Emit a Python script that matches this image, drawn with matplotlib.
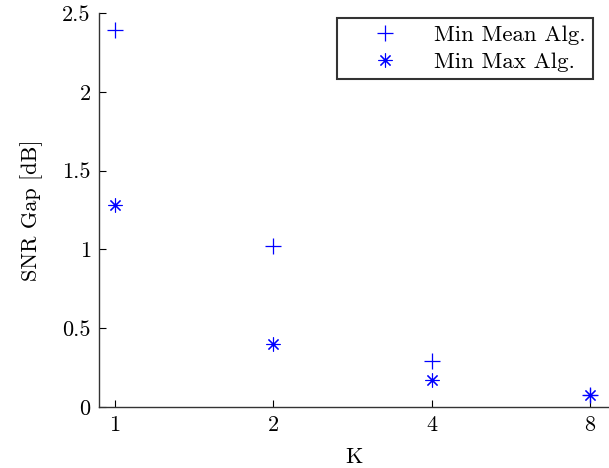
import numpy as np
import matplotlib
matplotlib.use('Agg')
import matplotlib.pyplot as plt

plt.rcParams['font.family'] = 'serif'
plt.rcParams['font.serif'] = ['cmr10']
plt.rcParams['mathtext.fontset'] = 'cm'
plt.rcParams['axes.formatter.use_mathtext'] = True

K = [1, 2, 4, 8]
min_mean = [2.39, 1.02, 0.29, 0.075]
min_max = [1.28, 0.40, 0.17, 0.075]
yticks = [0, 0.5, 1, 1.5, 2, 2.5]
ytick_labels = ['0', '0.5', '1', '1.5', '2', '2.5']

fs = 16

fig = plt.figure(figsize=(6.09, 4.68), dpi=100)
ax = fig.add_axes([99/609, 61/468, 510/609, 394/468])

ax.plot(K, min_mean, linestyle='none', marker='+', color='blue',
        markersize=11.5, markeredgewidth=0.9, label='Min Mean Alg.')
ax.plot(K, min_max, linestyle='none', marker=(8, 2, 0), color='blue',
        markersize=10, markeredgewidth=0.8, label='Min Max Alg.')

ax.set_xscale('log', base=2)
ax.set_xlim(0.932, 8.7)
ax.set_ylim(0, 2.5)
ax.set_xticks(K)
ax.set_xticklabels([str(k) for k in K])
ax.minorticks_off()
ax.set_yticks(yticks)
ax.set_yticklabels(ytick_labels)

ax.spines['top'].set_visible(False)
ax.spines['right'].set_visible(False)
for s in ['left', 'bottom']:
    ax.spines[s].set_linewidth(1.0)
    ax.spines[s].set_color('#333333')
ax.tick_params(direction='in', length=5, width=0.8, labelsize=fs, pad=6)

ax.set_xlabel('K', fontsize=fs, labelpad=9)
ax.set_ylabel('SNR Gap [dB]', fontsize=fs, labelpad=14)

leg = ax.legend(loc='upper left', bbox_to_anchor=((337 - 99) / 510, 0.987), fontsize=16.5,
                frameon=True, fancybox=False, edgecolor='black',
                handletextpad=0.35, borderpad=0.3, labelspacing=0.3,
                handlelength=3.6, borderaxespad=0)
leg.get_frame().set_linewidth(1.5)

fig.savefig('out.png', dpi=100)
